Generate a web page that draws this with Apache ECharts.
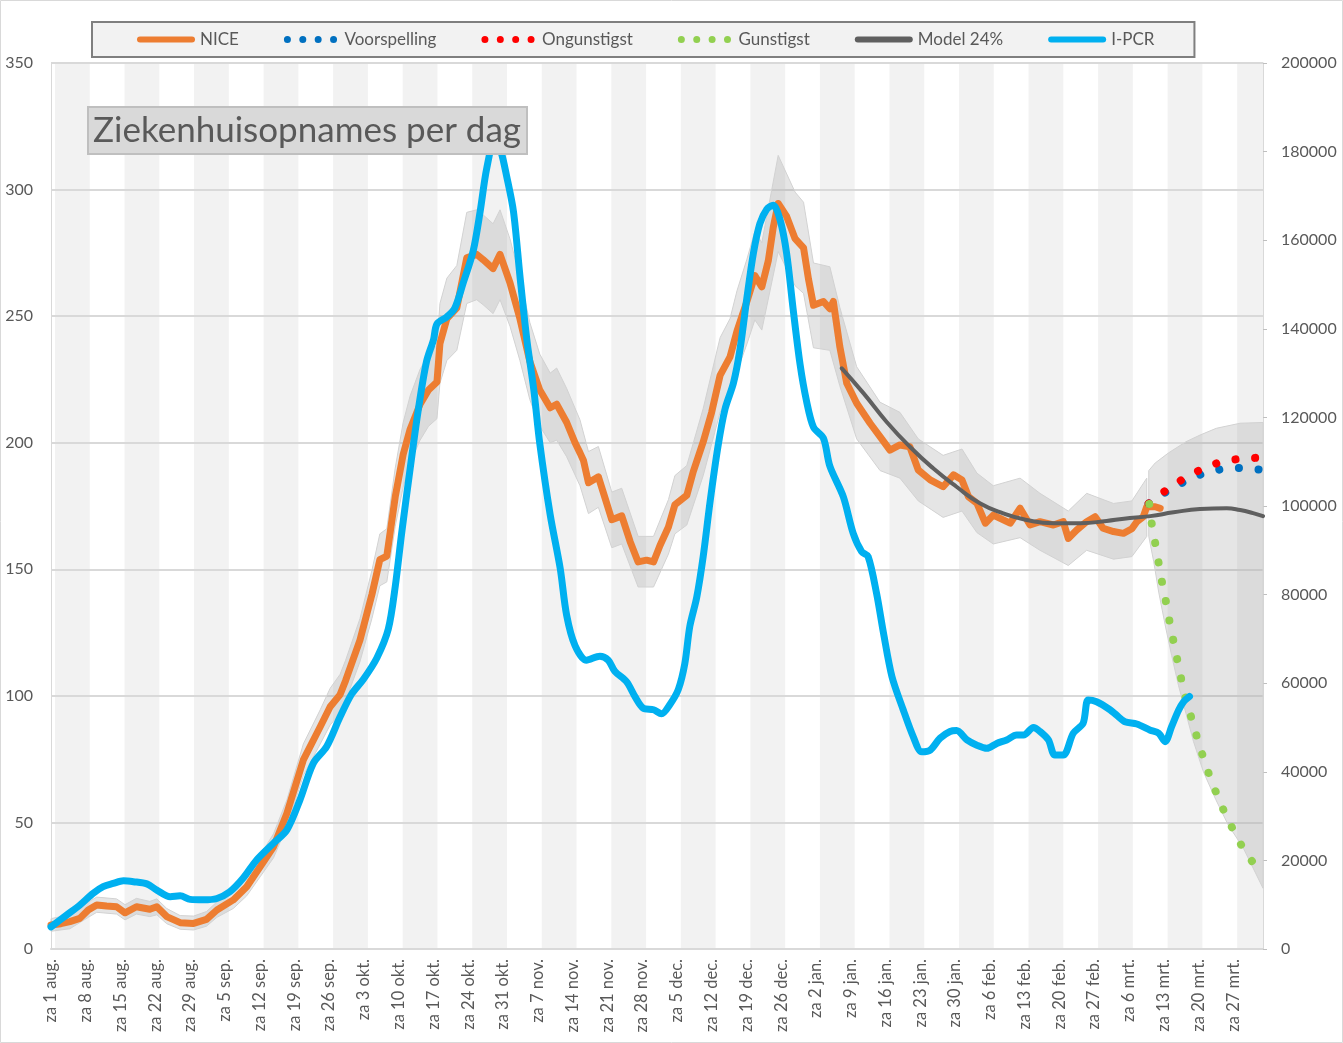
<!DOCTYPE html>
<html><head><meta charset="utf-8">
<script src="https://cdn.jsdelivr.net/npm/echarts@6/dist/echarts.min.js"></script>
<style>html,body{margin:0;padding:0;background:#fff}#chart{width:1343px;height:1043px}</style>
</head><body><div id="chart"></div>
<script>
// x = day index since za 1 aug. (0) ; ticks every 7 days
const xTickLabels = ['za 1 aug.','za 8 aug.','za 15 aug.','za 22 aug.','za 29 aug.','za 5 sep.','za 12 sep.','za 19 sep.','za 26 sep.','za 3 okt.','za 10 okt.','za 17 okt.','za 24 okt.','za 31 okt.','za 7 nov.','za 14 nov.','za 21 nov.','za 28 nov.','za 5 dec.','za 12 dec.','za 19 dec.','za 26 dec.','za 2 jan.','za 9 jan.','za 16 jan.','za 23 jan.','za 30 jan.','za 6 feb.','za 13 feb.','za 20 feb.','za 27 feb.','za 6 mrt.','za 13 mrt.','za 20 mrt.','za 27 mrt.'];
const leftTicks = [0, 350, 50];
const rightTicks = [0, 200000, 20000];
const lastDay = 244;

const nice = [[0,9.5],[2,10],[3.8,10.8],[5.8,12.1],[7.5,15.4],[9.2,17.4],[11.2,17],[13.2,16.7],[14.9,14.3],[17.2,16.7],[19.9,15.7],[21.3,16.7],[23.3,12.8],[26,10.4],[28.7,10.1],[31.3,11.7],[33.4,15.4],[36.7,19.4],[39.4,24.6],[42.1,32.5],[44.8,40.4],[47.5,53.6],[50.8,74.7],[54.2,87.8],[56.2,95.7],[58.2,100.5],[59.3,106],[62.2,122],[64.6,140],[66.2,153.8],[67.6,155.2],[69.3,178.6],[70.9,195.4],[72.3,205.3],[74.3,215.2],[76,220.8],[77.7,224],[78.3,239.2],[79.7,249],[81.7,253.3],[83.7,273],[85.7,274.4],[87,272.3],[89,268.8],[90.4,274.4],[92.4,263.2],[94.4,249],[96.4,232.1],[98.4,220.8],[100.5,213.8],[101.8,215.2],[103.8,208.1],[105.5,200],[106.5,196],[107.2,193],[108.2,184.2],[110.2,186.5],[111.5,178.4],[112.9,169.6],[114.9,171.1],[116.6,160.9],[118.2,152.9],[119.9,153.6],[121.3,152.9],[122.6,159.4],[124.3,166.7],[125.6,175.5],[128,179.2],[129.3,188.6],[131.3,200.3],[133,212],[134.7,226.6],[136.7,233.9],[138.1,244.1],[140.1,255.8],[141.7,266],[143.1,261.6],[144.4,271.8],[145.4,285],[146.4,294.5],[148.1,289.4],[149.8,280.6],[151.5,277],[152.5,264.6],[153.5,254.3],[155.5,255.8],[156.8,252.9],[157.5,255.8],[158.8,238],[160.2,223.5],[162.2,215.6],[164.9,207.7],[166.9,202.4],[168.9,197.1],[170.9,199.1],[172.9,198.4],[174.6,189.2],[177,185.3],[179.6,182.6],[181.7,187.3],[183.4,185.3],[184.7,178.7],[186.4,176.1],[188.1,168.2],[189.7,171.4],[193.1,168.2],[195.1,174.1],[197.1,167.5],[199.1,168.8],[201.8,167.5],[203.8,168.8],[204.8,162.2],[206.5,165.5],[208.5,168.8],[210.2,170.8],[211.8,166.2],[213.9,164.9],[215.9,164.2],[217.6,166],[218.6,168.8],[219.9,170.8],[220.6,174.7],[222.3,174.7],[223.3,174.1]];

// [day, low, high]
const niceBand = [[0,7,12],[3.8,8,13.5],[7.5,12.5,18.5],[9.2,14.5,20.5],[13.2,13.8,19.8],[14.9,11.5,17.5],[17.2,13.8,20],[19.9,12.8,18.8],[21.3,13.5,19.8],[23.3,10,16],[26,7.8,13.2],[28.7,7.5,13],[31.3,9,14.8],[33.4,12.5,18.6],[36.7,16,23],[39.4,21,28.5],[42.1,28.5,37],[44.8,36,45.5],[47.5,48.5,59],[50.8,68.5,81],[54.2,81,94.5],[56.2,88.5,103],[58.2,93,108.5],[59.3,98,114],[62.2,113.5,130.5],[64.6,130.5,149.5],[66.2,143.5,164],[67.6,145,166],[69.3,167,190],[70.9,182.5,208],[72.3,192,218.5],[74.3,201,229],[76,206.5,235],[77.7,209.5,238.5],[78.3,223.5,255],[79.7,232.5,265],[81.7,236.5,270],[83.7,255,291],[85.7,256.5,292],[87,254.5,290],[89,251,286.5],[90.4,256.5,292],[92.4,246,280.5],[94.4,232.5,265.5],[96.4,217,247.5],[98.4,206.5,235],[100.5,200,227.5],[101.8,201,229.5],[103.8,194.5,221.5],[106.5,183,209],[108.2,172,196.5],[110.2,174.5,198.5],[112.9,158.5,180.5],[114.9,160,182],[118.2,143,163],[121.3,143,163],[124.3,156,177.5],[125.6,164,187],[128,167.5,191],[131.3,187,213.5],[134.7,212,241.5],[136.7,218.5,249],[138.1,228,260],[140.1,239,272.5],[141.7,248.5,283.5],[143.1,244.5,279],[146.4,275.5,313.5],[149.8,262,299],[151.5,259,295],[153.5,237.5,271],[156.8,236.5,269.5],[158.8,222.5,253.5],[162.2,201.5,230],[166.9,189,216],[170.9,186,212],[174.6,177,201.5],[179.6,170.5,195],[183.4,173,197.5],[186.4,164.5,188],[189.7,160,183],[195.1,162.5,186],[199.1,157.5,180],[204.8,151.5,173],[208.5,157.5,180],[213.9,154,176],[217.6,155,177],[220.6,163,186]];

const forecastHigh = [[221,189],[222.3,192],[225,196],[228.5,200.4],[231.3,203],[234.6,205.7],[239.4,207.7],[244,208]];
const forecastLow = [[221,163],[222,153],[223,141],[224.3,128],[225.6,116],[227,104],[228.5,93],[230,82],[232,70],[234.5,59],[237,49],[240,40],[242,32],[244,24]];

const voorspelling = [[221,176],[224.3,180.3],[227.8,184.2],[231.5,187.5],[235.4,189.5],[239.4,190],[244,189.3]];
const ongunstigst = [[221,176],[224.2,180.8],[227.6,185.3],[231.2,189.1],[235,192.1],[239,193.6],[244,194.2]];
const gunstigst = [[221.1,175.8],[221.6,168],[222.3,160.3],[223,152.4],[223.7,144.6],[224.5,136.8],[225.2,129.2],[226,121.4],[226.8,113.7],[227.6,106],[228.5,98.4],[229.7,90.5],[230.8,83],[232,75.5],[233.3,68],[234.8,60.6],[236.4,53.3],[238.2,46.3],[240.1,39.3],[242.4,33],[244,30]];

const model24 = [[159.2,229.4],[163.6,219.5],[168.2,208.3],[172.9,198.4],[177.6,189.9],[182.3,182.6],[187,176.1],[191.7,172.1],[196.4,169.5],[201.8,168.2],[207.2,168.2],[212.5,169.1],[216,170],[221.3,171],[226,172.5],[231.3,173.8],[236.7,174.1],[239.4,173.4],[242,172.2],[244,171]];

const ipcr = [[0,5000],[3.2,7700],[5.8,9900],[8.5,12600],[10.5,14100],[12.5,14800],[14.6,15400],[16.6,15200],[19.3,14700],[21.3,13300],[24,11800],[26,12000],[28,11200],[30.7,11100],[33.4,11400],[36,12900],[38.7,16000],[41.4,20100],[44.8,23900],[47.5,26900],[50.1,33600],[52.8,41900],[55.5,45700],[58.2,52400],[60.5,57500],[62.9,60900],[65.6,65700],[67.9,72200],[69.3,81800],[70.6,93900],[72.3,108400],[73.9,121400],[75.6,132600],[77,137500],[77.7,141100],[79.7,142700],[81.3,144700],[83,150400],[85,157600],[86.4,166500],[87.7,176100],[89.4,183000],[90.6,180000],[91.7,174600],[93.1,166500],[94.4,152000],[95.8,137500],[97.2,126200],[98.4,114100],[100.5,98000],[102.5,86000],[103.8,75400],[105.5,68500],[107.8,65200],[110.5,66100],[112.2,65200],[113.5,62700],[115.9,60300],[117.6,56900],[119.2,54400],[121.3,54000],[122.9,53100],[124.6,55200],[126.3,58600],[127.6,64400],[128.6,72800],[130,79400],[131.3,88600],[132.7,101100],[134.3,113600],[135.7,121900],[137.4,127800],[138.7,135300],[140.1,147000],[141.4,157000],[142.7,163700],[144.1,167000],[145.4,167900],[146.8,164500],[148.1,157000],[149.4,144500],[150.8,132000],[152.1,123700],[153.5,117800],[155.5,115300],[156.8,109000],[159.5,102100],[161.5,93800],[163.2,89700],[164.5,88600],[166.2,80300],[167.6,71300],[169.3,61500],[171.6,53900],[173.6,47900],[175.3,44500],[177,44900],[179,47600],[181,49100],[182.3,49300],[184.4,47200],[186.4,46000],[188.4,45300],[190.4,46400],[192.4,47200],[194.4,48300],[195.8,48300],[197.8,50000],[199.1,49100],[200.8,47200],[202.1,43800],[203.8,43800],[205.8,48700],[207.8,51000],[208.8,56200],[210.5,55800],[213.2,54000],[214.5,52800],[216.2,51300],[218.6,50800],[221.3,49400],[223,48700],[224.3,46800],[225.6,50200],[227,53900],[228,55800],[229.2,57000]];

// ---------- styling ----------
const FONT = 'Lato';
const TXT = '#595959';
const STRIPE_SHIFT = 0.8;
const weekStripes = xTickLabels.map((l, i) => i).filter(i => i % 2 === 0).map(i => [i * 7 + STRIPE_SHIFT, i * 7 + 7 + STRIPE_SHIFT]);
const LINE_ICON = 'path://M3,0H55A3,3 0 0 1 55,6H3A3,3 0 0 1 3,0Z';
const DOT_ICON = 'path://M0,3.3a3.3,3.3 0 1,0 6.6,0a3.3,3.3 0 1,0 -6.6,0M14.5,3.3a3.3,3.3 0 1,0 6.6,0a3.3,3.3 0 1,0 -6.6,0M29,3.3a3.3,3.3 0 1,0 6.6,0a3.3,3.3 0 1,0 -6.6,0M43.5,3.3a3.3,3.3 0 1,0 6.6,0a3.3,3.3 0 1,0 -6.6,0Z';

function polygonRenderer(upper, lower, fill, stroke) {
  return function (params, api) {
    const pts = upper.map(p => api.coord(p)).concat(lower.slice().reverse().map(p => api.coord(p)));
    return { type: 'polygon', shape: { points: pts }, style: { fill: fill, stroke: stroke, lineWidth: 1 } };
  };
}

const chart = echarts.init(document.getElementById('chart'), null, { renderer: 'canvas' });

const dotted = (name, data, color, z) => ({
  name, type: 'line', data, z, showSymbol: false, symbol: 'none', animation: false, silent: true,
  color, itemStyle: { color },
  lineStyle: { color, width: 8, type: [0.1, 19.6], cap: 'round', join: 'round' }
});
const solid = (name, data, color, width, z, yAxisIndex, smooth) => ({
  name, type: 'line', data, z, yAxisIndex: yAxisIndex || 0, showSymbol: false, symbol: 'none', animation: false, silent: true,
  smooth: smooth || false,
  color, itemStyle: { color },
  lineStyle: { color, width, cap: 'round', join: 'round' }
});

const option = {
  animation: false,
  textStyle: { fontFamily: FONT },
  title: {
    text: 'Ziekenhuisopnames per dag', left: 88, top: 107, z: 10,
    backgroundColor: '#d9d9d9', borderColor: '#bfbfbf', borderWidth: 2,
    padding: [3, 6, 2, 5],
    textStyle: { fontSize: 35, fontWeight: 'normal', color: TXT, fontFamily: FONT, lineHeight: 42 }
  },
  legend: {
    left: 92, top: 22, padding: [9, 40, 9, 45],
    backgroundColor: '#f2f2f2', borderColor: '#7f7f7f', borderWidth: 2,
    itemGap: 45, itemWidth: 58, itemHeight: 7,
    itemStyle: { borderWidth: 0 },
    textStyle: { color: TXT, fontSize: 17, fontFamily: FONT },
    data: [
      { name: 'NICE', icon: LINE_ICON },
      { name: 'Voorspelling', icon: DOT_ICON },
      { name: 'Ongunstigst', icon: DOT_ICON },
      { name: 'Gunstigst', icon: DOT_ICON },
      { name: 'Model 24%', icon: LINE_ICON },
      { name: 'I-PCR', icon: LINE_ICON }
    ]
  },
  grid: { left: 51, right: 80, top: 63, bottom: 94, containLabel: false },
  xAxis: {
    type: 'value', min: 0, max: lastDay, interval: 7, z: 1,
    axisLine: { show: true, onZero: false, lineStyle: { color: '#d9d9d9', width: 2 } },
    axisTick: { show: false },
    splitLine: { show: false },
    axisLabel: {
      rotate: 90, margin: 10, fontSize: 16.5, color: TXT, fontFamily: FONT,
      padding: [4, 0, 0, 0],
      showMaxLabel: false, showMinLabel: true,
      formatter: v => (v % 7 === 0 && xTickLabels[v / 7]) ? xTickLabels[v / 7] : ''
    }
  },
  yAxis: [
    {
      type: 'value', position: 'left', min: leftTicks[0], max: leftTicks[1], interval: leftTicks[2], z: 1,
      axisLine: { show: true, lineStyle: { color: '#d9d9d9', width: 1 } },
      axisTick: { show: false },
      axisLabel: { color: TXT, fontSize: 16, fontFamily: FONT, margin: 18 },
      splitLine: { show: true, lineStyle: { color: '#d9d9d9', width: 2 } }
    },
    {
      type: 'value', position: 'right', min: rightTicks[0], max: rightTicks[1], interval: rightTicks[2], z: 1,
      axisLine: { show: true, lineStyle: { color: '#d9d9d9', width: 1 } },
      axisTick: { show: true, length: 4, lineStyle: { color: '#bfbfbf' } },
      axisLabel: { color: TXT, fontSize: 16, fontFamily: FONT, margin: 18, formatter: v => String(v) },
      splitLine: { show: false }
    }
  ],
  graphic: [{
    type: 'rect', z: 0, silent: true,
    shape: { x: 0.5, y: 0.5, width: 1342, height: 1042 },
    style: { fill: 'none', stroke: '#d9d9d9', lineWidth: 1 }
  }],
  series: [
    {
      name: 'stripes', type: 'custom', z: 0, silent: true, animation: false,
      data: weekStripes,
      renderItem: function (params, api) {
        const a = api.coord([api.value(0), leftTicks[1]]);
        const b = api.coord([Math.min(api.value(1), lastDay), leftTicks[0]]);
        return { type: 'rect', shape: { x: a[0], y: a[1], width: b[0] - a[0], height: b[1] - a[1] }, style: { fill: '#f2f2f2' } };
      },
      encode: { x: [0, 1], y: [] }
    },
    {
      name: 'niceBand', type: 'custom', z: 2, silent: true, animation: false,
      data: [[0, 0]],
      renderItem: polygonRenderer(niceBand.map(b => [b[0], b[2]]), niceBand.map(b => [b[0], b[1]]), 'rgba(150,150,150,0.25)', '#d2d2d2')
    },
    {
      name: 'forecastBand', type: 'custom', z: 2, silent: true, animation: false,
      data: [[0, 0]],
      renderItem: polygonRenderer(forecastHigh, forecastLow, 'rgba(150,150,150,0.25)', '#d2d2d2')
    },
    solid('NICE', nice, '#ed7d31', 7, 3),
    dotted('Voorspelling', voorspelling, '#0070c0', 4),
    dotted('Ongunstigst', ongunstigst, '#ff0000', 5),
    dotted('Gunstigst', gunstigst, '#92d050', 6),
    solid('Model 24%', model24, '#5f5f5f', 4, 7, 0, true),
    solid('I-PCR', ipcr, '#00b0f0', 7, 8, 1, 0.3)
  ]
};
chart.setOption(option);
</script>
</body></html>
